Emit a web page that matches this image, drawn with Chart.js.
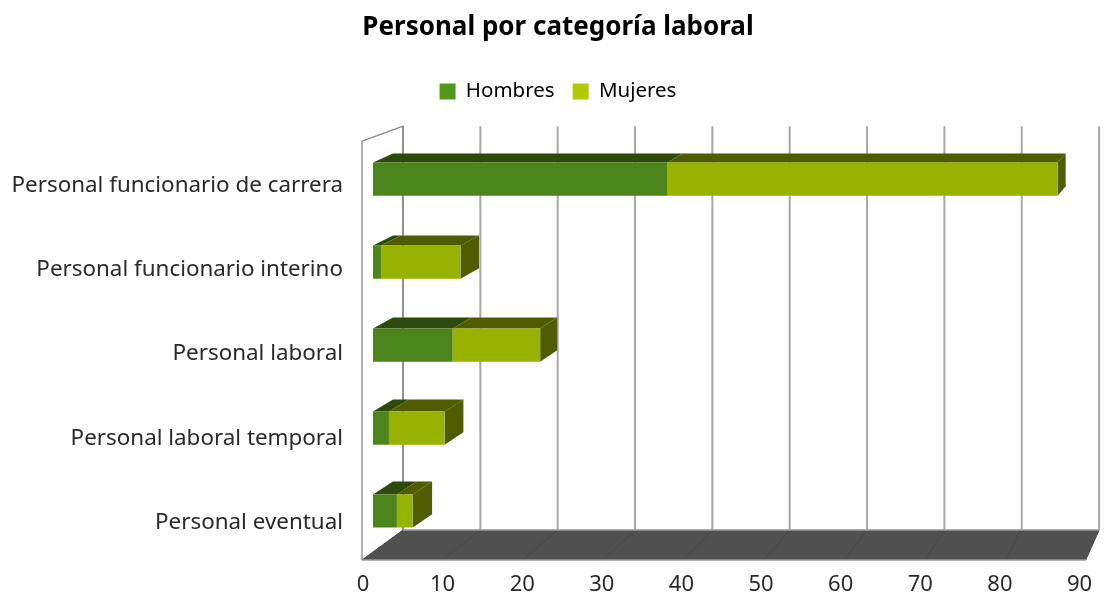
<!DOCTYPE html>
<html>
<head>
<meta charset="utf-8">
<title>Personal por categoría laboral</title>
<script src="https://cdn.jsdelivr.net/npm/chart.js@4"></script>
<style>
  html, body { margin: 0; padding: 0; background: #fff; }
  #wrap { width: 1107px; height: 594px; }
</style>
</head>
<body>
<div id="wrap"><canvas id="chart"></canvas></div>
<script>
const categories = ["Personal funcionario de carrera", "Personal funcionario interino", "Personal laboral", "Personal laboral temporal", "Personal eventual"];
const hombres = [37, 1, 10, 2, 3];
const mujeres = [49, 10, 11, 7, 2];

const colors = {
  hombres: "#4c851c", hombresLegend: "#4f9a1c", hombresTop: "#2b4a0c",
  mujeres: "#97b200", mujeresLegend: "#b0cc00", mujeresTop: "#4f5c00",
  floor: "#505050", floorLine: "#464646", grid: "#a8a8a8", wall: "#858585"
};
const uiFont = "'Noto Sans', sans-serif";

// where the back corner of a bar sits: closer to the vanishing point the further right/down it is
function backOf(px, py, area) {
  return { x: px + 20 - (px - area.left) * 0.0175, y: py - 9 - (py - area.top - 24) * 0.012 };
}

function face(ctx, pts, fill) {
  ctx.fillStyle = fill;
  ctx.beginPath();
  pts.forEach((p, i) => i ? ctx.lineTo(p.x, p.y) : ctx.moveTo(p.x, p.y));
  ctx.closePath();
  ctx.fill();
}

const box3d = {
  id: "box3d",
  beforeDatasetsDraw(chart) {
    const { ctx, chartArea: a, scales: { x } } = chart;
    const frontX = px => a.left - 11 + (px - a.left) * 1.0101;
    const backX = px => a.left + 30 + (px - a.left) * 0.9715;
    const wallTop = a.top - 11.5, wallTopFront = a.top + 3.5, floorBack = a.bottom - 22.5, floorFront = a.bottom + 7.5;
    const x0 = x.getPixelForValue(x.min), x1 = x.getPixelForValue(x.max);
    ctx.save();
    // floor
    face(ctx, [{ x: frontX(x0), y: floorFront }, { x: backX(x0), y: floorBack }, { x: backX(x1), y: floorBack }, { x: frontX(x1), y: floorFront }], colors.floor);
    ctx.lineWidth = 1;
    ctx.strokeStyle = colors.floorLine;
    x.ticks.forEach(t => {
      const px = x.getPixelForValue(t.value);
      ctx.beginPath();
      ctx.moveTo(backX(px), floorBack);
      ctx.lineTo(frontX(px), floorFront);
      ctx.stroke();
    });
    ctx.strokeStyle = "#9a9a9a";
    ctx.lineWidth = 1.5;
    ctx.beginPath();
    ctx.moveTo(frontX(x0), floorFront);
    ctx.lineTo(frontX(x1), floorFront);
    ctx.moveTo(backX(x0), floorBack);
    ctx.lineTo(backX(x1), floorBack);
    ctx.stroke();
    // back wall lines
    ctx.strokeStyle = colors.grid;
    ctx.lineWidth = 2;
    x.ticks.forEach(t => {
      const px = backX(x.getPixelForValue(t.value));
      ctx.beginPath();
      ctx.moveTo(px, wallTop);
      ctx.lineTo(px, floorBack);
      ctx.stroke();
    });
    // left wall
    ctx.strokeStyle = colors.wall;
    ctx.lineWidth = 1.3;
    ctx.beginPath();
    ctx.moveTo(backX(x0), floorBack);
    ctx.lineTo(backX(x0), wallTop);
    ctx.lineTo(frontX(x0), wallTopFront);
    ctx.lineTo(frontX(x0), floorFront);
    ctx.stroke();
    // tops and end caps of the bars, taken from the bar elements
    const tops = [colors.hombresTop, colors.mujeresTop];
    chart.data.datasets.forEach((ds, d) => {
      chart.getDatasetMeta(d).data.forEach(bar => {
        const p = bar.getProps(["x", "y", "base", "height"], true);
        const top = p.y - p.height / 2, bottom = p.y + p.height / 2;
        face(ctx, [{ x: p.base, y: top }, backOf(p.base, top, a), backOf(p.x, top, a), { x: p.x, y: top }], tops[d]);
        if (d === chart.data.datasets.length - 1) {
          face(ctx, [{ x: p.x, y: top }, backOf(p.x, top, a), backOf(p.x, bottom, a), { x: p.x, y: bottom }], tops[d]);
        }
      });
    });
    ctx.restore();
  }
};

new Chart(document.getElementById("chart"), {
  type: "bar",
  plugins: [box3d],
  data: {
    labels: categories,
    datasets: [
      { label: "Hombres", data: hombres, backgroundColor: colors.hombres, xAxisID: "x", yAxisID: "y" },
      { label: "Mujeres", data: mujeres, backgroundColor: colors.mujeres, xAxisID: "x", yAxisID: "y" }
    ]
  },
  options: {
    indexAxis: "y",
    responsive: true,
    maintainAspectRatio: false,
    animation: false,
    layout: { padding: { left: 9, right: 0, top: 12, bottom: 0 } },
    datasets: { bar: { categoryPercentage: 0.4, barPercentage: 1 } },
    scales: {
      x: {
        stacked: true, min: 0, max: 90,
        afterFit(scale) { scale.height = 41.5; scale.paddingLeft = 0; scale.paddingRight = 0; },
        grid: { display: false, drawTicks: false },
        border: { display: false },
        ticks: { stepSize: 10, labelOffset: -10, padding: 19, color: "#2a2a2a", font: { family: uiFont, size: 22 } }
      },
      // empty axes, they only keep the gaps around the plot
      legendGap: {
        type: "linear", position: "top", min: 0, max: 1,
        afterFit(scale) { scale.height = 26; scale.paddingLeft = 0; scale.paddingRight = 0; },
        grid: { display: false, drawTicks: false },
        border: { display: false },
        ticks: { display: false }
      },
      rightGap: {
        type: "linear", position: "right", min: 0, max: 1,
        afterFit(scale) { scale.width = 17.5; scale.paddingTop = 0; scale.paddingBottom = 0; },
        grid: { display: false, drawTicks: false },
        border: { display: false },
        ticks: { display: false }
      },
      y: { stacked: true, display: false },
      // category names sit on the front plane, slightly wider spaced than the bars
      yLabels: {
        type: "linear", position: "left", reverse: true, offset: false, bounds: "data", min: -0.57, max: 4.356,
        afterBuildTicks(scale) { scale.ticks = categories.map((c, i) => ({ value: i })); },
        afterFit(scale) { scale.width = 364; scale.paddingTop = 0; scale.paddingBottom = 0; },
        grid: { display: false, drawTicks: false },
        border: { display: false },
        ticks: { padding: 30, autoSkip: false, color: "#2a2a2a", font: { family: uiFont, size: 22.4 }, callback: v => categories[v] }
      }
    },
    plugins: {
      title: {
        display: true,
        text: "Personal por categoría laboral",
        color: "#000",
        font: { family: uiFont, size: 26, weight: "bold" },
        padding: { top: 0, bottom: 20 }
      },
      legend: {
        position: "top",
        labels: {
          boxWidth: 16, boxHeight: 16, padding: 18, color: "#2a2a2a",
          font: { family: uiFont, size: 20.5 },
          generateLabels: () => [
            { text: "Hombres", fillStyle: colors.hombresLegend, strokeStyle: colors.hombresLegend, lineWidth: 0, datasetIndex: 0 },
            { text: "Mujeres", fillStyle: colors.mujeresLegend, strokeStyle: colors.mujeresLegend, lineWidth: 0, datasetIndex: 1 }
          ]
        }
      },
      tooltip: { enabled: false }
    }
  }
});
</script>
</body>
</html>
